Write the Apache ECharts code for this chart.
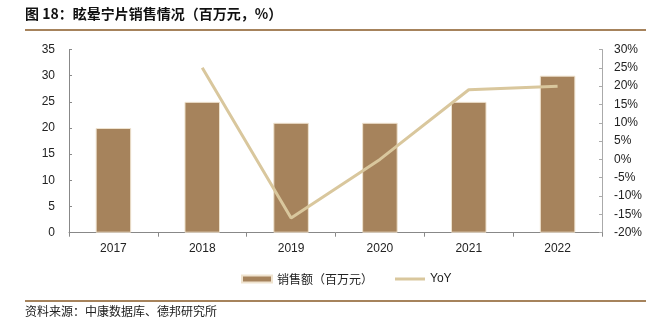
<!DOCTYPE html>
<html><head><meta charset="utf-8">
<script src="https://cdn.jsdelivr.net/npm/echarts@6/dist/echarts.min.js"></script>
<style>html,body{margin:0;padding:0;background:#fff}#c{width:662px;height:329px}</style>
</head><body><div id="c"></div>
<script>
const years = ['2017','2018','2019','2020','2021','2022'];
const sales = [20, 25, 21, 21, 25, 30];
const yoy = [null, 25, -16, 0, 19, 20];
const leftTicks = {min: 0, max: 35, interval: 5};
const rightTicks = {min: -20, max: 30, interval: 5};
const titleText = '图 18：眩晕宁片销售情况（百万元，%）';
const sourceText = '资料来源：中康数据库、德邦研究所';
const salesName = '销售额（百万元）';
const yoyName = 'YoY';

const chart = echarts.init(document.getElementById('c'), null, {renderer: 'canvas'});
const axisLabel = {color: '#222', fontSize: 12, fontFamily: 'Liberation Sans, Arial, sans-serif'};
chart.setOption({
  animation: false,
  grid: {left: 69, right: 60, top: 49.5, bottom: 96.3},
  legend: {
    top: 268, left: 236, itemGap: 22, itemWidth: 30, itemHeight: 7,
    textStyle: {fontSize: 12, color: '#222', fontFamily: 'Noto Sans CJK SC, sans-serif'},
    data: [
      {name: salesName, icon: 'rect'},
      {name: yoyName, icon: 'path://M0,0 L30,0 L30,3 L0,3 Z', itemStyle: {color: '#d9c79d'},
       textStyle: {fontFamily: 'Liberation Sans, Arial, sans-serif', fontSize: 12}}
    ]
  },
  xAxis: {
    type: 'category', data: years,
    axisLine: {lineStyle: {color: '#888'}},
    axisTick: {show: true, inside: false, length: 4, lineStyle: {color: '#888'}},
    axisLabel: Object.assign({margin: 10}, axisLabel)
  },
  yAxis: [
    Object.assign({type: 'value', position: 'left', splitLine: {show: false},
      axisLine: {show: true, lineStyle: {color: '#888'}},
      axisTick: {show: true, inside: true, length: 3, lineStyle: {color: '#888'}},
      axisLabel: Object.assign({margin: 14}, axisLabel)}, leftTicks),
    Object.assign({type: 'value', position: 'right', splitLine: {show: false},
      axisLine: {show: true, lineStyle: {color: '#aaa'}},
      axisTick: {show: true, inside: true, length: 3, lineStyle: {color: '#aaa'}},
      axisLabel: Object.assign({margin: 12, formatter: '{value}%'}, axisLabel)}, rightTicks)
  ],
  series: [
    {name: salesName, type: 'bar', data: sales, barWidth: '40%', yAxisIndex: 0,
     itemStyle: {color: '#a6835c', borderColor: '#efe3cf', borderWidth: 1}},
    {name: yoyName, type: 'line', data: yoy, yAxisIndex: 1, symbol: 'none',
     lineStyle: {color: '#d9c79d', width: 3}, itemStyle: {color: '#d9c79d'}}
  ],
  graphic: [
    {type: 'text', left: 25, top: 7, style: {text: titleText, fontSize: 14, fontWeight: 'bold', fill: '#111', fontFamily: 'Noto Sans CJK SC, sans-serif'}},
    {type: 'rect', shape: {x: 25, y: 29, width: 621, height: 2}, style: {fill: '#a6835c'}},
    {type: 'rect', shape: {x: 25, y: 300, width: 621, height: 2}, style: {fill: '#a6835c'}},
    {type: 'text', left: 25, top: 305, style: {text: sourceText, fontSize: 12, fill: '#222', fontFamily: 'Noto Sans CJK SC, sans-serif'}}
  ]
});
</script></body></html>
